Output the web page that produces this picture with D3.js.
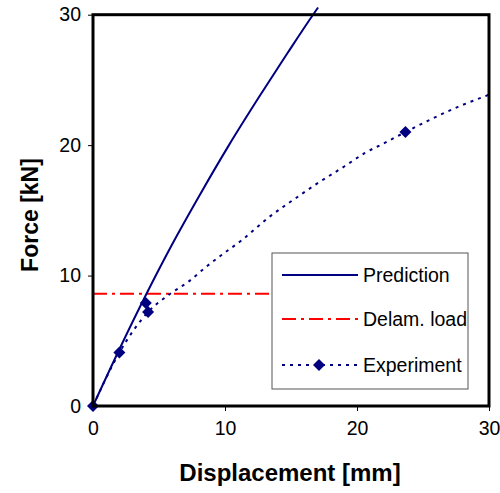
<!DOCTYPE html>
<html>
<head>
<meta charset="utf-8">
<script src="https://cdn.jsdelivr.net/npm/d3@7"></script>
<style>
  body { margin: 0; background: #fff; }
  text { font-family: "Liberation Sans", Arial, sans-serif; }
</style>
</head>
<body>
<script>
// values
let predictionPts = [[0, 0], [2, 4.35], [4.1, 8.7], [6, 12.4], [8.1, 16.2], [10.3, 20.0],
  [12.65, 23.8], [14.7, 27.0], [16.67, 30.0], [17.05, 30.55]];
let experimentLine = [[0, 0], [2, 4.1], [4.17, 7.2], [5.83, 8.59], [7.2, 9.51], [8.56, 10.66],
  [9.85, 11.66], [11.29, 12.73], [13.26, 14.42], [15.38, 15.95], [16.82, 16.95], [19.09, 18.4],
  [20.6, 19.4], [22.1, 20.17], [23.67, 21.0], [27.65, 22.93], [30.1, 23.9]];
let experimentMarks = [[0, 0], [2, 4.1], [4.0, 7.9], [4.17, 7.2], [23.67, 21.0]];
let delamLoad = 8.6;
let delamRange = [0, 13.4];
let xTicks = [0, 10, 20, 30];
let yTicks = [0, 10, 20, 30];
let legendLabels = ['Prediction', 'Delam. load', 'Experiment'];

let width = 500, height = 493;
let navy = '#000080';

let svg = d3.select('body').append('svg')
  .attr('width', width)
  .attr('height', height);

let x = d3.scaleLinear().domain([0, 30]).range([93, 489]);
let y = d3.scaleLinear().domain([0, 30]).range([406, 14.7]);

// axes with outward ticks
let xAxis = svg.append('g')
  .attr('transform', 'translate(0,' + y(0) + ')')
  .call(d3.axisBottom(x).tickValues(xTicks).tickSize(5).tickPadding(10).tickFormat(d3.format('d')));
let yAxis = svg.append('g')
  .attr('transform', 'translate(' + x(0) + ',0)')
  .call(d3.axisLeft(y).tickValues(yTicks).tickSize(5).tickPadding(7).tickFormat(d3.format('d')));

[xAxis, yAxis].forEach(a => {
  a.select('.domain').remove();
  a.selectAll('.tick line').attr('stroke', '#000').attr('stroke-width', 1);
  a.selectAll('.tick text')
    .style('font-size', '19.5px')
    .style('font-family', '"Liberation Sans", Arial, sans-serif')
    .attr('fill', '#000');
});

// delamination load
svg.append('line')
  .attr('x1', x(delamRange[0])).attr('x2', x(delamRange[1]))
  .attr('y1', y(delamLoad)).attr('y2', y(delamLoad))
  .attr('stroke', '#ff0000')
  .attr('stroke-width', 2)
  .attr('stroke-dasharray', '14,5,3,5');

let smooth = d3.line().x(d => x(d[0])).y(d => y(d[1])).curve(d3.curveMonotoneX);

// experiment curve (dotted)
svg.append('path')
  .datum(experimentLine)
  .attr('d', smooth)
  .attr('fill', 'none')
  .attr('stroke', navy)
  .attr('stroke-width', 2)
  .attr('stroke-dasharray', '3,5');

// prediction curve
svg.append('path')
  .datum(predictionPts)
  .attr('d', smooth)
  .attr('fill', 'none')
  .attr('stroke', navy)
  .attr('stroke-width', 2);

let diamond = d3.symbol().type(d3.symbolSquare).size(72);
svg.selectAll('path.mark')
  .data(experimentMarks)
  .enter().append('path')
  .attr('class', 'mark')
  .attr('d', diamond)
  .attr('transform', d => 'translate(' + x(d[0]) + ',' + y(d[1]) + ') rotate(45)')
  .attr('fill', navy);

// frame
svg.append('rect')
  .attr('x', x(0)).attr('y', y(30))
  .attr('width', x(30) - x(0))
  .attr('height', y(0) - y(30))
  .attr('fill', 'none')
  .attr('stroke', '#000')
  .attr('stroke-width', 3);

// legend
let lg = svg.append('g').attr('transform', 'translate(272,253)');
lg.append('rect')
  .attr('width', 196).attr('height', 136)
  .attr('fill', '#fff')
  .attr('stroke', '#555')
  .attr('stroke-width', 1);

let rowY = [22, 66, 112];
let dashes = [null, '14,5,3,5', '3,5'];
let colors = [navy, '#ff0000', navy];
legendLabels.forEach((lab, i) => {
  lg.append('line')
    .attr('x1', 10).attr('x2', 86)
    .attr('y1', rowY[i]).attr('y2', rowY[i])
    .attr('stroke', colors[i])
    .attr('stroke-width', 2)
    .attr('stroke-dasharray', dashes[i]);
  lg.append('text')
    .attr('x', 91).attr('y', rowY[i] + 7)
    .style('font-size', '19.5px')
    .text(lab);
});
lg.append('path')
  .attr('d', diamond)
  .attr('transform', 'translate(47,' + rowY[2] + ') rotate(45)')
  .attr('fill', navy);

// axis titles
svg.append('text')
  .attr('x', 290).attr('y', 481)
  .attr('text-anchor', 'middle')
  .style('font-size', '24px')
  .style('font-weight', 'bold')
  .text('Displacement [mm]');

svg.append('text')
  .attr('transform', 'translate(38,215) rotate(-90)')
  .attr('text-anchor', 'middle')
  .style('font-size', '23px')
  .style('font-weight', 'bold')
  .text('Force [kN]');
</script>
</body>
</html>
